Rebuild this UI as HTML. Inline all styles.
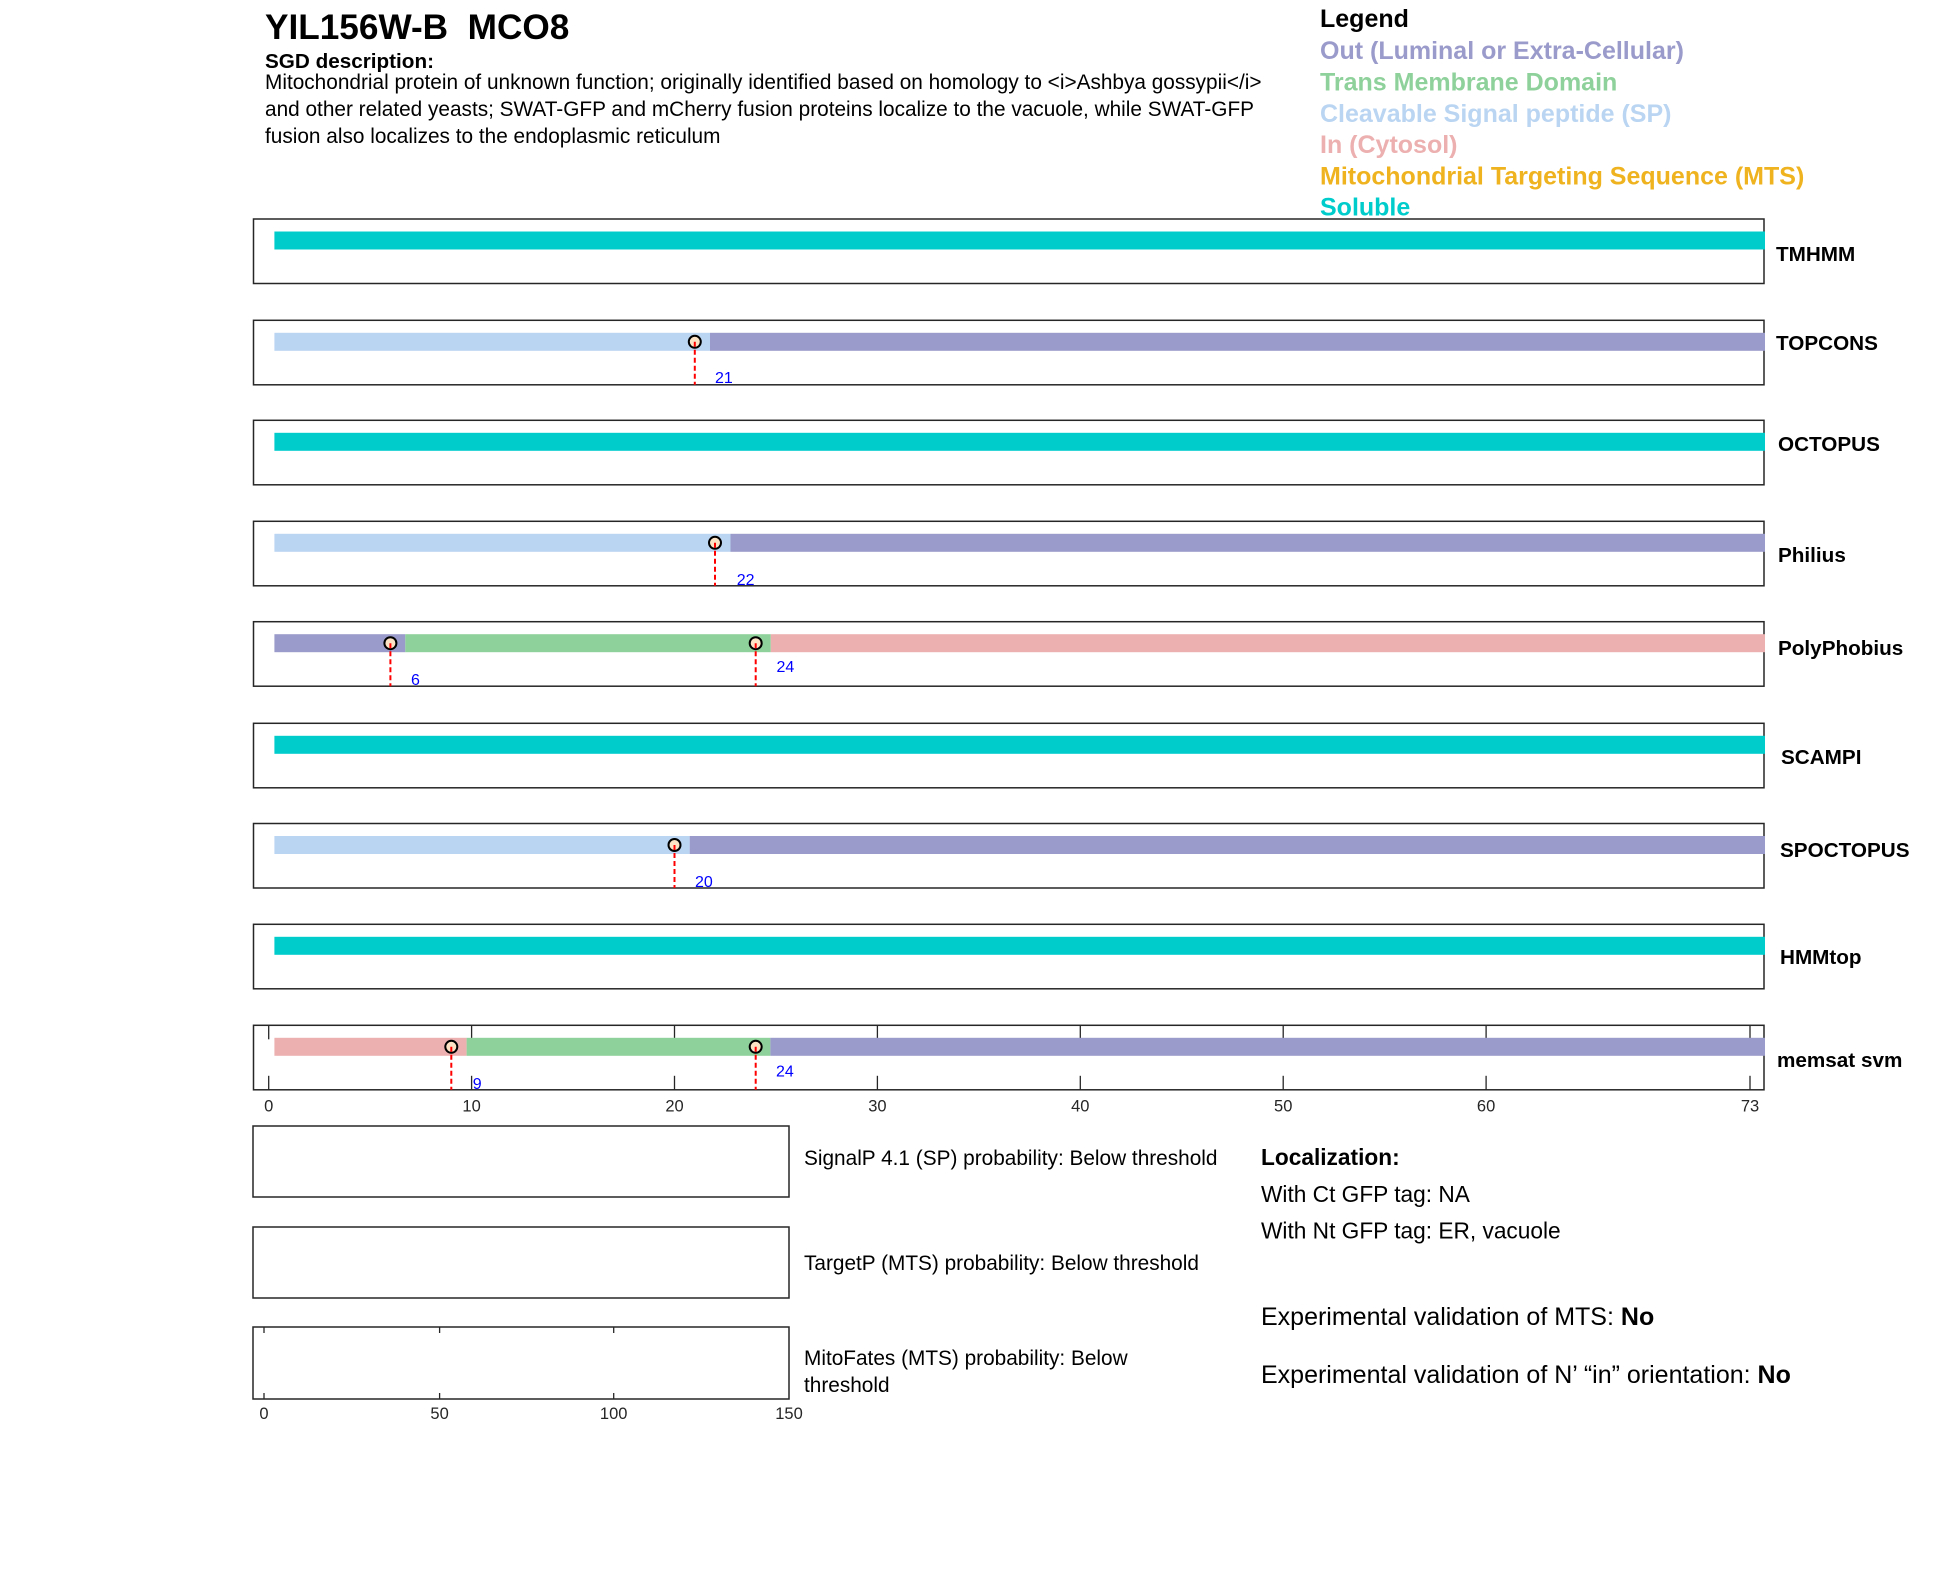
<!DOCTYPE html>
<html>
<head>
<meta charset="utf-8">
<style>
html,body{margin:0;padding:0;background:#fff;}
svg{display:block;}
text{font-family:"Liberation Sans",Arial,sans-serif;}
</style>
</head>
<body>
<svg width="1950" height="1573" viewBox="0 0 1950 1573" xmlns="http://www.w3.org/2000/svg">
<rect width="1950" height="1573" fill="#fff"/>

<!-- Header -->
<text x="265" y="39" font-size="35.2" font-weight="bold" fill="#000" xml:space="preserve">YIL156W-B&#160; MCO8</text>
<text x="265" y="68" font-size="20.7" font-weight="bold" fill="#000">SGD description:</text>
<text x="265" y="89" font-size="20.8" fill="#000">Mitochondrial protein of unknown function; originally identified based on homology to &lt;i&gt;Ashbya gossypii&lt;/i&gt;</text>
<text x="265" y="116" font-size="20.8" fill="#000">and other related yeasts; SWAT-GFP and mCherry fusion proteins localize to the vacuole, while SWAT-GFP</text>
<text x="265" y="143" font-size="20.8" fill="#000">fusion also localizes to the endoplasmic reticulum</text>

<!-- Legend -->
<g font-size="25" font-weight="bold">
<text x="1320" y="27" fill="#000">Legend</text>
<text x="1320" y="59" fill="#9b9bcb">Out (Luminal or Extra-Cellular)</text>
<text x="1320" y="90.5" fill="#8fd19b">Trans Membrane Domain</text>
<text x="1320" y="122" fill="#bad5f2">Cleavable Signal peptide (SP)</text>
<text x="1320" y="153" fill="#edb0b0">In (Cytosol)</text>
<text x="1320" y="184.5" fill="#efb320">Mitochondrial Targeting Sequence (MTS)</text>
<text x="1320" y="215.5" fill="#00cccc">Soluble</text>
</g>

<!-- TMHMM -->
<rect x="253.5" y="219" width="1510.5" height="64.5" fill="none" stroke="#262626" stroke-width="1.5"/>
<rect x="274.4" y="231.5" width="1490.6" height="18" fill="#00cccc"/>
<text x="1776" y="261" font-size="20.7" font-weight="bold">TMHMM</text>

<!-- TOPCONS -->
<rect x="253.5" y="320.3" width="1510.5" height="64.5" fill="none" stroke="#262626" stroke-width="1.5"/>
<rect x="274.4" y="332.8" width="435.6" height="18" fill="#bad5f2"/>
<rect x="710" y="332.8" width="1055" height="18" fill="#9b9bcb"/>
<circle cx="694.8" cy="341.8" r="6" fill="#fde3c6" stroke="#000" stroke-width="2"/>
<line x1="694.8" y1="341.8" x2="694.8" y2="384.8" stroke="#ff0000" stroke-width="2" stroke-dasharray="5,3"/>
<text x="715" y="383" font-size="16" fill="#0000ff">21</text>
<text x="1776" y="350" font-size="20.7" font-weight="bold">TOPCONS</text>

<!-- OCTOPUS -->
<rect x="253.5" y="420.3" width="1510.5" height="64.5" fill="none" stroke="#262626" stroke-width="1.5"/>
<rect x="274.4" y="432.8" width="1490.6" height="18" fill="#00cccc"/>
<text x="1778" y="451" font-size="20.7" font-weight="bold">OCTOPUS</text>

<!-- Philius -->
<rect x="253.5" y="521.3" width="1510.5" height="64.5" fill="none" stroke="#262626" stroke-width="1.5"/>
<rect x="274.4" y="533.8" width="456.1" height="18" fill="#bad5f2"/>
<rect x="730.5" y="533.8" width="1034.5" height="18" fill="#9b9bcb"/>
<circle cx="715" cy="542.8" r="6" fill="#fde3c6" stroke="#000" stroke-width="2"/>
<line x1="715" y1="542.8" x2="715" y2="585.8" stroke="#ff0000" stroke-width="2" stroke-dasharray="5,3"/>
<text x="736.7" y="585" font-size="16" fill="#0000ff">22</text>
<text x="1778" y="562" font-size="20.7" font-weight="bold">Philius</text>

<!-- PolyPhobius -->
<rect x="253.5" y="621.7" width="1510.5" height="64.5" fill="none" stroke="#262626" stroke-width="1.5"/>
<rect x="274.4" y="634.2" width="130.9" height="18" fill="#9b9bcb"/>
<rect x="405.3" y="634.2" width="365.5" height="18" fill="#8fd19b"/>
<rect x="770.8" y="634.2" width="994.2" height="18" fill="#edb0b0"/>
<circle cx="390.4" cy="643.2" r="6" fill="#fde3c6" stroke="#000" stroke-width="2"/>
<line x1="390.4" y1="643.2" x2="390.4" y2="686.2" stroke="#ff0000" stroke-width="2" stroke-dasharray="5,3"/>
<circle cx="755.7" cy="643.2" r="6" fill="#fde3c6" stroke="#000" stroke-width="2"/>
<line x1="755.7" y1="643.2" x2="755.7" y2="686.2" stroke="#ff0000" stroke-width="2" stroke-dasharray="5,3"/>
<text x="411" y="685" font-size="16" fill="#0000ff">6</text>
<text x="776.5" y="672" font-size="16" fill="#0000ff">24</text>
<text x="1778" y="655" font-size="20.7" font-weight="bold">PolyPhobius</text>

<!-- SCAMPI -->
<rect x="253.5" y="723.3" width="1510.5" height="64.5" fill="none" stroke="#262626" stroke-width="1.5"/>
<rect x="274.4" y="735.8" width="1490.6" height="18" fill="#00cccc"/>
<text x="1781" y="764" font-size="20.7" font-weight="bold">SCAMPI</text>

<!-- SPOCTOPUS -->
<rect x="253.5" y="823.5" width="1510.5" height="64.5" fill="none" stroke="#262626" stroke-width="1.5"/>
<rect x="274.4" y="836" width="415.3" height="18" fill="#bad5f2"/>
<rect x="689.7" y="836" width="1075.3" height="18" fill="#9b9bcb"/>
<circle cx="674.5" cy="845" r="6" fill="#fde3c6" stroke="#000" stroke-width="2"/>
<line x1="674.5" y1="845" x2="674.5" y2="888" stroke="#ff0000" stroke-width="2" stroke-dasharray="5,3"/>
<text x="695" y="887" font-size="16" fill="#0000ff">20</text>
<text x="1780" y="857" font-size="20.7" font-weight="bold">SPOCTOPUS</text>

<!-- HMMtop -->
<rect x="253.5" y="924.3" width="1510.5" height="64.5" fill="none" stroke="#262626" stroke-width="1.5"/>
<rect x="274.4" y="936.8" width="1490.6" height="18" fill="#00cccc"/>
<text x="1780" y="964" font-size="20.7" font-weight="bold">HMMtop</text>

<!-- memsat svm -->
<rect x="253.5" y="1025.3" width="1510.5" height="64.5" fill="none" stroke="#262626" stroke-width="1.5"/>
<g stroke="#262626" stroke-width="1.3">
<line x1="268.7" y1="1025.3" x2="268.7" y2="1039.3"/><line x1="268.7" y1="1075.8" x2="268.7" y2="1089.8"/>
<line x1="471.6" y1="1025.3" x2="471.6" y2="1039.3"/><line x1="471.6" y1="1075.8" x2="471.6" y2="1089.8"/>
<line x1="674.5" y1="1025.3" x2="674.5" y2="1039.3"/><line x1="674.5" y1="1075.8" x2="674.5" y2="1089.8"/>
<line x1="877.4" y1="1025.3" x2="877.4" y2="1039.3"/><line x1="877.4" y1="1075.8" x2="877.4" y2="1089.8"/>
<line x1="1080.3" y1="1025.3" x2="1080.3" y2="1039.3"/><line x1="1080.3" y1="1075.8" x2="1080.3" y2="1089.8"/>
<line x1="1283.2" y1="1025.3" x2="1283.2" y2="1039.3"/><line x1="1283.2" y1="1075.8" x2="1283.2" y2="1089.8"/>
<line x1="1486.1" y1="1025.3" x2="1486.1" y2="1039.3"/><line x1="1486.1" y1="1075.8" x2="1486.1" y2="1089.8"/>
<line x1="1750" y1="1025.3" x2="1750" y2="1039.3"/><line x1="1750" y1="1075.8" x2="1750" y2="1089.8"/>
</g>
<rect x="274.4" y="1037.8" width="192.2" height="18" fill="#edb0b0"/>
<rect x="466.6" y="1037.8" width="303.8" height="18" fill="#8fd19b"/>
<rect x="770.4" y="1037.8" width="994.6" height="18" fill="#9b9bcb"/>
<circle cx="451.3" cy="1046.8" r="6" fill="#fde3c6" stroke="#000" stroke-width="2"/>
<line x1="451.3" y1="1046.8" x2="451.3" y2="1089.8" stroke="#ff0000" stroke-width="2" stroke-dasharray="5,3"/>
<circle cx="755.7" cy="1046.8" r="6" fill="#fde3c6" stroke="#000" stroke-width="2"/>
<line x1="755.7" y1="1046.8" x2="755.7" y2="1089.8" stroke="#ff0000" stroke-width="2" stroke-dasharray="5,3"/>
<text x="472.7" y="1089" font-size="16" fill="#0000ff">9</text>
<text x="776" y="1076.7" font-size="16" fill="#0000ff">24</text>
<text x="1777" y="1067" font-size="20.7" font-weight="bold">memsat svm</text>
<g font-size="16.5" fill="#262626" text-anchor="middle">
<text x="268.7" y="1111.5">0</text>
<text x="471.6" y="1111.5">10</text>
<text x="674.5" y="1111.5">20</text>
<text x="877.4" y="1111.5">30</text>
<text x="1080.3" y="1111.5">40</text>
<text x="1283.2" y="1111.5">50</text>
<text x="1486.1" y="1111.5">60</text>
<text x="1750" y="1111.5">73</text>
</g>

<!-- Lower boxes -->
<rect x="253" y="1126" width="536" height="71" fill="none" stroke="#262626" stroke-width="1.5"/>
<rect x="253" y="1227" width="536" height="71" fill="none" stroke="#262626" stroke-width="1.5"/>
<rect x="253" y="1327" width="536" height="72" fill="none" stroke="#262626" stroke-width="1.5"/>
<g stroke="#262626" stroke-width="1.3">
<line x1="264" y1="1327" x2="264" y2="1333"/><line x1="264" y1="1393" x2="264" y2="1399"/>
<line x1="439.6" y1="1327" x2="439.6" y2="1333"/><line x1="439.6" y1="1393" x2="439.6" y2="1399"/>
<line x1="613.7" y1="1327" x2="613.7" y2="1333"/><line x1="613.7" y1="1393" x2="613.7" y2="1399"/>
</g>
<g font-size="16.5" fill="#262626" text-anchor="middle">
<text x="264" y="1419">0</text>
<text x="439.6" y="1419">50</text>
<text x="613.7" y="1419">100</text>
<text x="789" y="1419">150</text>
</g>
<g font-size="20.8" fill="#000">
<text x="804" y="1165">SignalP 4.1 (SP) probability: Below threshold</text>
<text x="804" y="1270">TargetP (MTS) probability: Below threshold</text>
<text x="804" y="1365">MitoFates (MTS) probability: Below</text>
<text x="804" y="1392">threshold</text>
</g>

<!-- Localization -->
<g font-size="22.7" fill="#000">
<text x="1261" y="1165" font-weight="bold">Localization:</text>
<text x="1261" y="1202">With Ct GFP tag: NA</text>
<text x="1261" y="1238.5">With Nt GFP tag: ER, vacuole</text>
</g>
<g font-size="25" fill="#000">
<text x="1261" y="1325">Experimental validation of MTS: <tspan font-weight="bold">No</tspan></text>
<text x="1261" y="1383">Experimental validation of N’ “in” orientation: <tspan font-weight="bold">No</tspan></text>
</g>
</svg>
</body>
</html>
